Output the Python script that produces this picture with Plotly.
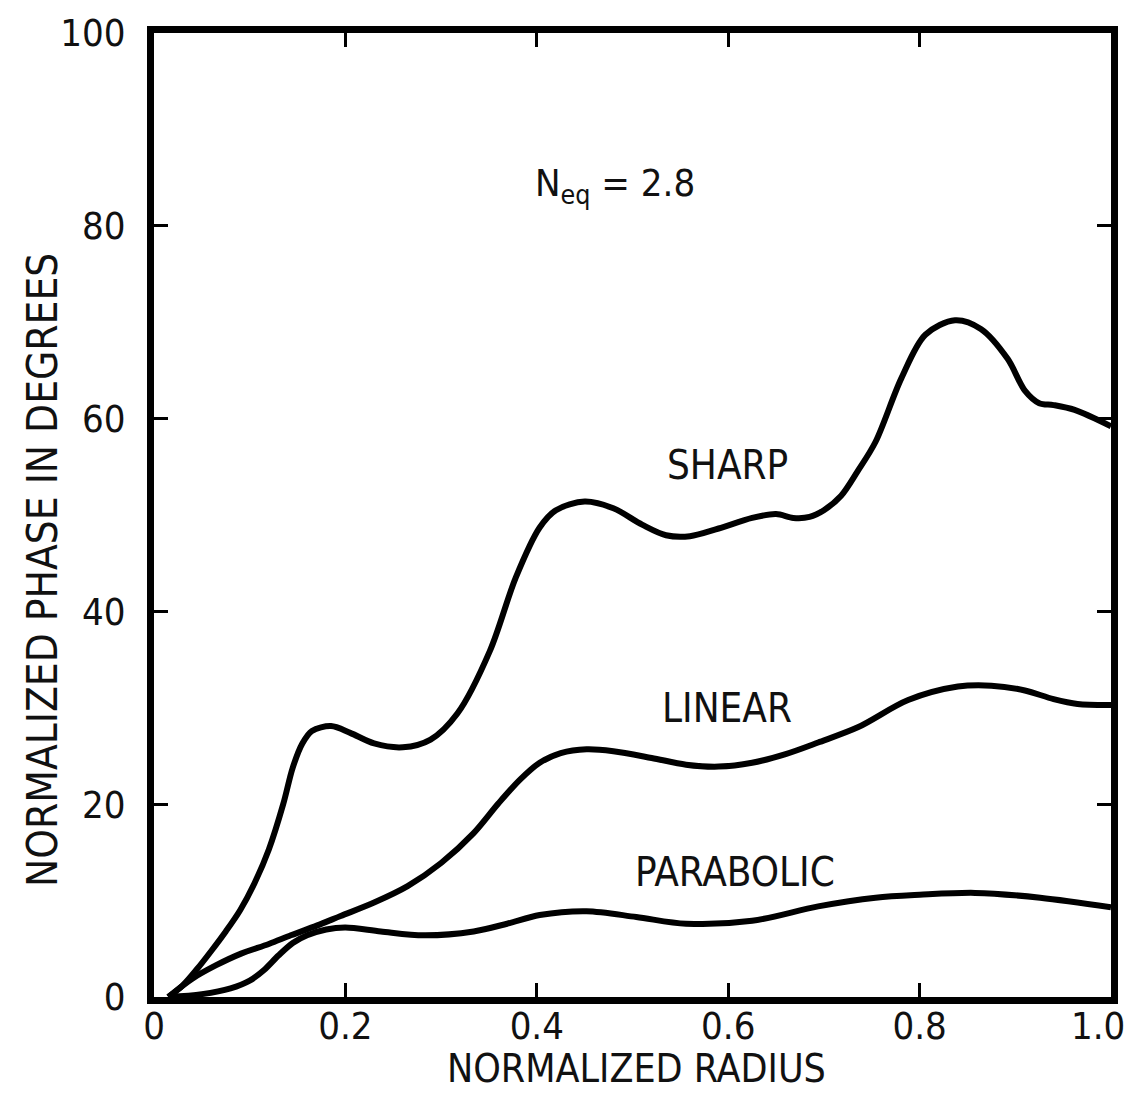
import plotly.graph_objects as go

# ---- data ----
r_sharp = [0.015, 0.03, 0.045, 0.06, 0.075, 0.09, 0.105, 0.12, 0.135, 0.145, 0.155, 0.165,
           0.185, 0.205, 0.23, 0.26, 0.289, 0.317, 0.351, 0.378, 0.403, 0.42, 0.45, 0.48,
           0.51, 0.535, 0.56, 0.59, 0.625, 0.65, 0.668, 0.685, 0.7, 0.718, 0.735, 0.754,
           0.781, 0.806, 0.837, 0.864, 0.892, 0.91, 0.925, 0.94, 0.962, 1.0]
v_sharp = [0, 1.2, 2.9, 4.8, 6.8, 9.0, 11.8, 15.3, 20.0, 23.8, 26.3, 27.6,
           28.1, 27.4, 26.3, 25.9, 26.7, 29.4, 35.9, 43.5, 48.7, 50.5, 51.4, 50.7,
           49.0, 47.9, 47.8, 48.6, 49.7, 50.1, 49.7, 49.8, 50.5, 52.0, 54.5, 57.6,
           64.2, 68.7, 70.2, 69.3, 66.2, 62.9, 61.6, 61.4, 60.9, 59.2]

r_linear = [0.015, 0.04, 0.065, 0.091, 0.12, 0.143, 0.17, 0.195, 0.23, 0.265, 0.3, 0.334,
            0.36, 0.383, 0.403, 0.425, 0.452, 0.48, 0.52, 0.556, 0.59, 0.625, 0.66, 0.694,
            0.736, 0.788, 0.84, 0.875, 0.91, 0.94, 0.965, 1.0]
v_linear = [0, 1.9, 3.3, 4.5, 5.5, 6.4, 7.4, 8.4, 9.8, 11.5, 13.9, 17.0,
            20.1, 22.6, 24.3, 25.3, 25.7, 25.5, 24.8, 24.1, 23.9, 24.3, 25.2, 26.4,
            28.0, 30.8, 32.2, 32.3, 31.8, 30.9, 30.4, 30.3]

r_parabolic = [0.015, 0.05, 0.08, 0.1, 0.115, 0.13, 0.145, 0.16, 0.18, 0.2, 0.237, 0.282,
               0.334, 0.369, 0.403, 0.452, 0.504, 0.556, 0.625, 0.694, 0.754, 0.8, 0.858,
               0.926, 1.0]
v_parabolic = [0, 0.3, 0.9, 1.7, 2.8, 4.3, 5.6, 6.4, 7.0, 7.2, 6.8, 6.4,
               6.8, 7.6, 8.5, 8.9, 8.3, 7.6, 7.9, 9.4, 10.3, 10.6, 10.8,
               10.3, 9.3]

x_ticks = [0, 0.2, 0.4, 0.6, 0.8, 1.0]
x_tick_text = ["0", "0.2", "0.4", "0.6", "0.8", "1.0"]
y_ticks = [0, 20, 40, 60, 80, 100]
y_tick_text = ["0", "20", "40", "60", "80", "100"]

curve_labels = ["SHARP", "LINEAR", "PARABOLIC"]
label_x = [0.599, 0.599, 0.607]
label_y = [55.2, 30.0, 13.0]

FONT = "Liberation Sans Narrow, DejaVu Sans Condensed, Arial Narrow, sans-serif"
INK = "#111"

fig = go.Figure()
for rx, vy, name in [(r_sharp, v_sharp, "SHARP"), (r_linear, v_linear, "LINEAR"),
                     (r_parabolic, v_parabolic, "PARABOLIC")]:
    fig.add_trace(go.Scatter(x=rx, y=vy, mode="lines", name=name,
                             line=dict(color="black", width=6, shape="spline", smoothing=0.9),
                             showlegend=False))

for txt, lx, ly in zip(curve_labels, label_x, label_y):
    fig.add_annotation(x=lx, y=ly, text=txt, showarrow=False,
                       font=dict(family=FONT, size=40, color=INK))

fig.add_annotation(x=0.396, y=84.2, xanchor="left", text="N<sub>eq</sub> = 2.8", showarrow=False,
                   font=dict(family=FONT, size=38, color=INK))

# axis titles placed as paper annotations
fig.add_annotation(xref="paper", yref="paper", x=0.504, y=-0.074, yanchor="middle",
                   text="NORMALIZED RADIUS", showarrow=False,
                   font=dict(family=FONT, size=39, color=INK))
fig.add_annotation(xref="paper", yref="paper", x=-0.116, y=0.443, xanchor="center",
                   yanchor="middle", textangle=-90,
                   text="NORMALIZED PHASE IN DEGREES", showarrow=False,
                   font=dict(family=FONT, size=42, color=INK))

# the last x tick label sits against the right edge; draw it right-anchored so it stays visible
fig.add_annotation(x=x_ticks[-1], xref="x", yref="paper", y=-0.030, yanchor="middle",
                   xanchor="right", xshift=16, text=x_tick_text[-1], showarrow=False,
                   font=dict(family=FONT, size=38, color=INK))

axis_common = dict(showline=True, linecolor="black", linewidth=7, mirror="ticks",
                   ticks="inside", ticklen=14, tickwidth=3, tickcolor="black",
                   showgrid=False, zeroline=False, automargin=False,
                   ticklabeloverflow="allow",
                   tickfont=dict(family=FONT, size=38, color=INK))

fig.update_xaxes(range=[0, 1.0], tickvals=x_ticks[:-1], ticktext=x_tick_text[:-1],
                 ticklabelstandoff=-11, **axis_common)
fig.update_yaxes(range=[0, 100], tickvals=y_ticks, ticktext=y_tick_text,
                 ticklabelstandoff=14, **axis_common)

# the page body has an 8px margin; size the figure so the page never scrolls
fig.update_layout(width=1130, height=1083, margin=dict(l=146, r=27, t=25, b=94),
                  plot_bgcolor="white", paper_bgcolor="white")

fig.write_html("out.html")
